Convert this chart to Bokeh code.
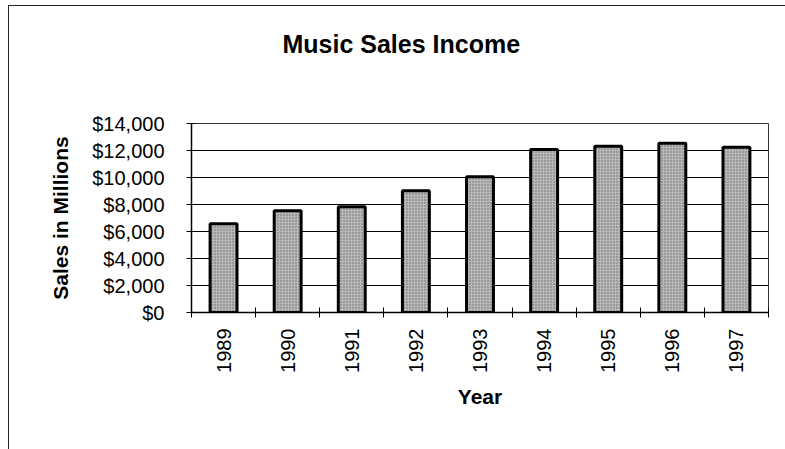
import math
from bokeh.plotting import figure
from bokeh.models import Range1d, FixedTicker, NumeralTickFormatter, Title
from bokeh.embed import file_html
from bokeh.resources import INLINE

# ---- data ----
years = ["1989", "1990", "1991", "1992", "1993", "1994", "1995", "1996", "1997"]
sales = [6580, 7540, 7830, 9020, 10050, 12070, 12320, 12530, 12240]
y_ticks = [0, 2000, 4000, 6000, 8000, 10000, 12000, 14000]
title_text = "Music Sales Income"
x_title = "Year"
y_title = "Sales in Millions"

FONT = "Liberation Sans"

centers = [i + 0.5 for i in range(len(years))]
bounds = list(range(len(years) + 1))

p = figure(width=777, height=444, x_range=Range1d(0, len(years)),
           y_range=Range1d(0, 14000), output_backend="svg", toolbar_location=None,
           min_border_left=182, min_border_right=18, min_border_top=117,
           min_border_bottom=138, title_location=None)
p.styles = {"margin-left": "8px", "margin-top": "5px",
            "border-left": "1px solid #222", "border-top": "1px solid #222"}

# spacer (nearest the frame), then the visible title above it
spacer = Title(text=" ", text_font_size="1px", standoff=56)
p.add_layout(spacer, "above")
main_title = Title(text=title_text, align="left", vertical_align="top", offset=91,
                   standoff=10, text_font=FONT, text_font_size="25px",
                   text_font_style="bold", text_color="black")
p.add_layout(main_title, "above")

p.vbar(x=centers, top=sales, width=0.42, bottom=0,
       fill_color="#b8b8b8", line_color="black", line_width=3,
       hatch_pattern="dot", hatch_color="#6a6a6a", hatch_scale=3, hatch_weight=1)

p.background_fill_color = "white"
p.border_fill_color = "white"
p.outline_line_color = "#333333"
p.outline_line_width = 1

p.xgrid.visible = False
p.ygrid.ticker = FixedTicker(ticks=y_ticks)
p.ygrid.grid_line_color = "black"
p.ygrid.grid_line_width = 1

# x axis
xa = p.xaxis[0]
xa.ticker = FixedTicker(ticks=centers, minor_ticks=bounds)
xa.major_label_overrides = {c: y for c, y in zip(centers, years)}
xa.major_tick_out = 0
xa.major_tick_in = 0
xa.minor_tick_out = 5
xa.minor_tick_in = 5
xa.minor_tick_line_color = "black"
xa.axis_line_color = "black"
xa.axis_line_width = 1.5
xa.major_label_orientation = math.pi / 2
xa.major_label_standoff = 11
xa.major_label_text_font = FONT
xa.major_label_text_font_size = "20px"
xa.major_label_text_color = "black"
xa.axis_label = x_title
xa.axis_label_text_font = FONT
xa.axis_label_text_font_size = "21px"
xa.axis_label_text_font_style = "bold"
xa.axis_label_text_color = "black"
xa.axis_label_standoff = 9

# y axis
ya = p.yaxis[0]
ya.ticker = FixedTicker(ticks=y_ticks)
ya.formatter = NumeralTickFormatter(format="$0,0")
ya.major_tick_out = 5
ya.major_tick_in = 4
ya.minor_tick_out = 0
ya.minor_tick_in = 0
ya.major_tick_line_color = "black"
ya.axis_line_color = "black"
ya.axis_line_width = 1.5
ya.major_label_standoff = 22
ya.major_label_text_font = FONT
ya.major_label_text_font_size = "20px"
ya.major_label_text_color = "black"
ya.axis_label = y_title
ya.axis_label_text_font = FONT
ya.axis_label_text_font_size = "21px"
ya.axis_label_text_font_style = "bold"
ya.axis_label_text_color = "black"
ya.axis_label_standoff = 17

open("out.html", "w").write(file_html(p, INLINE))
